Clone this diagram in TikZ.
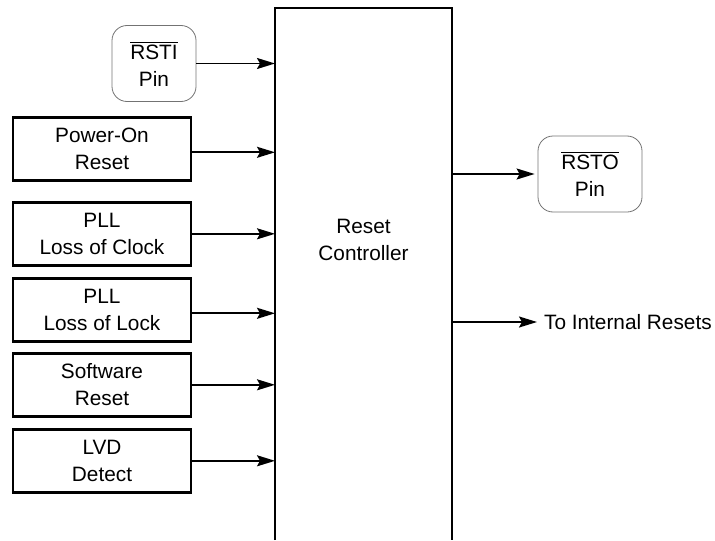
\documentclass[tikz,border=0pt]{standalone}
\usepackage{fontspec}
\setmainfont{Liberation Sans}
\usetikzlibrary{positioning,arrows.meta}

\begin{document}
\begin{tikzpicture}[x=0.5pt, y=-0.5pt,
    every node/.style={font=\fontsize{10.4}{13.5}\selectfont},
    src/.style={draw, line width=1.3pt, align=center, minimum width=89pt, minimum height=31.5pt, inner sep=0pt},
    pin/.style={draw=black!55, rounded corners=7.5pt, align=center, minimum height=38pt, inner sep=0pt},
    sig/.style={-{Stealth[length=9pt,width=5.5pt,inset=1.5pt]}, line width=0.85pt}]
    \useasboundingbox (0,0) rectangle (715,540);

    \node[pin, minimum width=42pt] (rsti) at (154,63.5) {$\overline{\mbox{RSTI}}$\\Pin};
    \node[src, anchor=north] (pwr) at (102,116) {Power-On\\Reset};
    \node[src, below=9.7pt of pwr] (loc) {PLL\\Loss of Clock};
    \node[src, below=5.2pt of loc] (lol) {PLL\\Loss of Lock};
    \node[src, below=4.7pt of lol] (sw) {Software\\Reset};
    \node[src, below=5.2pt of sw] (lvd) {LVD\\Detect};

    \node[minimum width=88.5pt, minimum height=266pt, inner sep=0pt, outer sep=0pt] (ctrl) at (363.5,274) {};
    \node[align=center] (ctrllbl) at (363.5,240) {Reset\\Controller};
    \draw[line width=0.7pt] (ctrl.south west) -- (ctrl.north west) -- (ctrl.north east) -- (ctrl.south east);

    \node[pin, minimum width=52pt] (rsto) at (590,174) {$\overline{\mbox{RSTO}}$\\Pin};
    \node[anchor=west] (intl) at (537,322) {To Internal Resets};

    \draw[sig] (rsti) -- (rsti -| ctrl.west);
    \draw[sig] ([yshift=-1.75pt]pwr.east) -- ([yshift=-1.75pt]pwr.east -| ctrl.west);
    \draw[sig] (loc) -- (loc -| ctrl.west);
    \draw[sig] ([yshift=-1.75pt]lol.east) -- ([yshift=-1.75pt]lol.east -| ctrl.west);
    \draw[sig] (sw) -- (sw -| ctrl.west);
    \draw[sig] (lvd) -- (lvd -| ctrl.west);
    \draw[sig, shorten >=1.5pt] (ctrl.east |- rsto) -- (rsto);
    \draw[sig] (ctrl.east |- intl) -- (intl.west);
  \end{tikzpicture}
\end{document}
